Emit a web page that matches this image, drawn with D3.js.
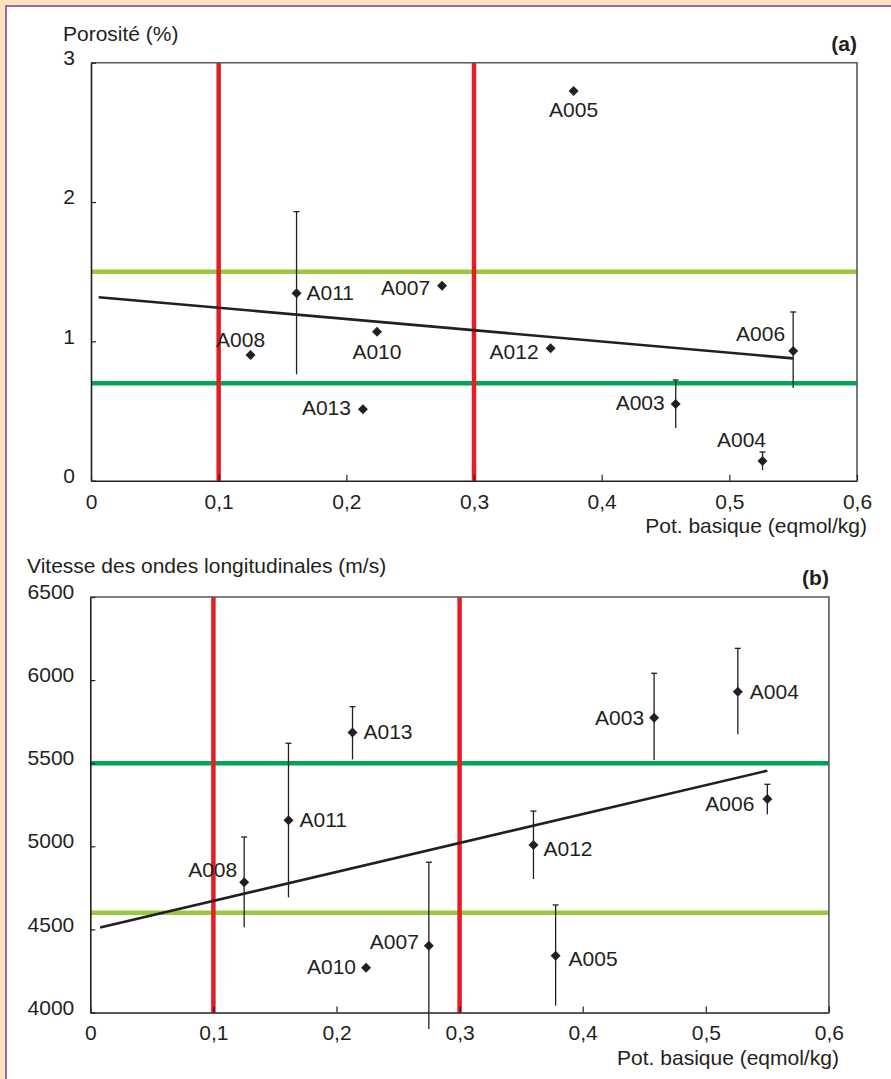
<!DOCTYPE html>
<html>
<head>
<meta charset="utf-8">
<script src="https://cdn.jsdelivr.net/npm/d3@7"></script>
<style>
  html, body { margin: 0; padding: 0; background: #fff; }
  svg { display: block; }
  text { font-family: "Liberation Sans", Arial, Helvetica, sans-serif; fill: #231f20; }
</style>
</head>
<body>
<svg id="chart" width="891" height="1079"></svg>
<script>
// ---------------- DATA ----------------
const samples        = ["A003", "A004", "A005", "A006", "A007", "A008", "A010", "A011", "A012", "A013"];
const potBasique     = [0.458, 0.526, 0.378, 0.550, 0.275, 0.125, 0.224, 0.161, 0.360, 0.213];

const porosite         = [0.550, 0.141, 2.797, 0.931, 1.400, 0.902, 1.069, 1.345, 0.950, 0.512];
const porositeErrLow   = [0.379, 0.077, null, 0.665, null, null, null, 0.764, null, null];
const porositeErrHigh  = [0.723, 0.206, null, 1.211, null, null, null, 1.931, null, null];

const vitesse          = [5774, 5930, 4342, 5285, 4402, 4783, 4270, 5156, 5008, 5684];
const vitesseErrLow    = [5519, 5674, 4041, 5193, 3901, 4513, null, 4693, 4803, 5523];
const vitesseErrHigh   = [6041, 6191, 4647, 5373, 4904, 5056, null, 5620, 5212, 5840];

const potLimits            = [0.1, 0.3];
const porositeLimitLight   = 1.5;
const porositeLimitDark    = 0.7;
const vitesseLimitLight    = 4600;
const vitesseLimitDark     = 5500;

const porositeTrendX = [0.006, 0.55];
const porositeTrendY = [1.317, 0.878];
const vitesseTrendX  = [0.008, 0.55];
const vitesseTrendY  = [4511, 5455];

const xTicks        = [0, 0.1, 0.2, 0.3, 0.4, 0.5, 0.6];
const porositeTicks = [0, 1, 2, 3];
const vitesseTicks  = [4000, 4500, 5000, 5500, 6000, 6500];

const xTitle = "Pot. basique (eqmol/kg)";
const porositeTitle = "Porosité (%)";
const vitesseTitle = "Vitesse des ondes longitudinales (m/s)";

// ---------------- LAYOUT (label placement, not data) ----------------
const labelPosA = {
  A003: ["end", -11, 6],  A004: ["middle", -21, -14], A005: ["middle", 0, 26],
  A006: ["end", -8, -10], A007: ["end", -12, 9],      A008: ["middle", -10, -8],
  A010: ["middle", 0, 27], A011: ["start", 10, 7],    A012: ["end", -12, 11],
  A013: ["end", -12, 6]
};
const labelPosB = {
  A003: ["end", -10, 7],  A004: ["start", 12, 7],  A005: ["start", 13, 10],
  A006: ["end", -13, 12], A007: ["end", -10, 3],   A008: ["end", -7, -5],
  A010: ["end", -10, 6],  A011: ["start", 11, 7],  A012: ["start", 10, 11],
  A013: ["start", 11, 6]
};

const COL = {
  red: "#e31e24", light: "#97c93d", dark: "#00a651", ink: "#231f20",
  frame: "#58595b", peach: "#fde2bf", purple: "#9d67a5"
};
const FS = 21;

const svg = d3.select("#chart");

// background frame
svg.append("rect").attr("x", 0).attr("y", 0).attr("width", 891).attr("height", 1079).attr("fill", COL.peach);
svg.append("rect").attr("x", 5).attr("y", 5).attr("width", 900).attr("height", 1100).attr("fill", COL.purple);
svg.append("rect").attr("x", 7).attr("y", 7).attr("width", 900).attr("height", 1100).attr("fill", "#fff");

function fmtX(d) { return d === 0 ? "0" : d.toFixed(1).replace(".", ","); }

function panel(cfg) {
  const x = d3.scaleLinear().domain([0, 0.6]).range([cfg.left, cfg.right]);
  const y = d3.scaleLinear().domain(cfg.yDomain).range([cfg.bottom, cfg.top]);
  const g = svg.append("g");

  // horizontal limit lines
  [[cfg.limLight, COL.light], [cfg.limDark, COL.dark]].forEach(([v, c]) => {
    g.append("line").attr("x1", x(0)).attr("x2", x(0.6)).attr("y1", y(v)).attr("y2", y(v))
      .attr("stroke", c).attr("stroke-width", 4.5);
  });
  // vertical limit lines
  potLimits.forEach(v => {
    g.append("line").attr("x1", x(v)).attr("x2", x(v)).attr("y1", y(cfg.yDomain[1])).attr("y2", y(cfg.yDomain[0]))
      .attr("stroke", COL.red).attr("stroke-width", 4.5);
  });

  // frame top / right
  g.append("path")
    .attr("d", `M${x(0)},${y(cfg.yDomain[1])}H${x(0.6)}V${y(cfg.yDomain[0])}`)
    .attr("fill", "none").attr("stroke", COL.frame).attr("stroke-width", 1.6);

  // axes
  const xAxis = d3.axisBottom(x).tickValues(xTicks).tickFormat(fmtX)
    .tickSizeInner(-6).tickSizeOuter(0).tickPadding(13);
  const gx = g.append("g").attr("transform", `translate(0,${cfg.bottom})`).call(xAxis);
  const yAxis = d3.axisLeft(y).tickValues(cfg.yTicks).tickFormat(d => String(d))
    .tickSizeInner(-5).tickSizeOuter(0).tickPadding(16);
  const gy = g.append("g").attr("transform", `translate(${cfg.left},0)`).call(yAxis);
  [gx, gy].forEach(a => {
    a.select(".domain").attr("stroke", COL.ink).attr("stroke-width", 1.6);
    a.selectAll(".tick line").attr("stroke", COL.ink).attr("stroke-width", 1.2);
    a.selectAll(".tick text").attr("font-size", FS).attr("fill", COL.ink)
      .attr("font-family", '"Liberation Sans", Arial, Helvetica, sans-serif');
  });
  gy.selectAll(".tick text").attr("dy", "0.08em");

  // titles
  g.append("text").attr("x", cfg.yTitleX).attr("y", cfg.yTitleY).attr("font-size", FS).text(cfg.yTitle);
  g.append("text").attr("x", x(0.6) + 10).attr("y", cfg.bottom + 52).attr("text-anchor", "end")
    .attr("font-size", FS).text(xTitle);
  g.append("text").attr("x", x(0.6)).attr("y", cfg.top - 12).attr("text-anchor", "end")
    .attr("font-size", FS).attr("font-weight", "bold").text(cfg.tag);

  // trend line
  g.append("line")
    .attr("x1", x(cfg.trendX[0])).attr("y1", y(cfg.trendY[0]))
    .attr("x2", x(cfg.trendX[1])).attr("y2", y(cfg.trendY[1]))
    .attr("stroke", COL.ink).attr("stroke-width", 2.6);

  // error bars
  samples.forEach((s, i) => {
    const lo = cfg.errLow[i], hi = cfg.errHigh[i];
    if (lo == null || hi == null) return;
    const cx = x(potBasique[i]);
    g.append("line").attr("x1", cx).attr("x2", cx).attr("y1", y(hi)).attr("y2", y(lo))
      .attr("stroke", COL.ink).attr("stroke-width", 1.3);
    g.append("line").attr("x1", cx - 3).attr("x2", cx + 3).attr("y1", y(hi)).attr("y2", y(hi))
      .attr("stroke", COL.ink).attr("stroke-width", 1.3);
  });

  // points
  const r = 5;
  samples.forEach((s, i) => {
    const cx = x(potBasique[i]), cy = y(cfg.values[i]);
    g.append("path")
      .attr("d", `M${cx},${cy - r}L${cx + r},${cy}L${cx},${cy + r}L${cx - r},${cy}Z`)
      .attr("fill", COL.ink);
    const p = cfg.labels[s];
    g.append("text").attr("x", cx + p[1]).attr("y", cy + p[2]).attr("text-anchor", p[0])
      .attr("font-size", FS).text(s);
  });
}

panel({
  left: 91, right: 857, top: 62.7, bottom: 480.7,
  yDomain: [0, 3], yTicks: porositeTicks,
  values: porosite, errLow: porositeErrLow, errHigh: porositeErrHigh,
  limLight: porositeLimitLight, limDark: porositeLimitDark,
  trendX: porositeTrendX, trendY: porositeTrendY,
  yTitle: porositeTitle, yTitleX: 63, yTitleY: 41, tag: "(a)",
  labels: labelPosA
});

panel({
  left: 90.3, right: 828.9, top: 597, bottom: 1012.5,
  yDomain: [4000, 6500], yTicks: vitesseTicks,
  values: vitesse, errLow: vitesseErrLow, errHigh: vitesseErrHigh,
  limLight: vitesseLimitLight, limDark: vitesseLimitDark,
  trendX: vitesseTrendX, trendY: vitesseTrendY,
  yTitle: vitesseTitle, yTitleX: 27, yTitleY: 573, tag: "(b)",
  labels: labelPosB
});
</script>
</body>
</html>
